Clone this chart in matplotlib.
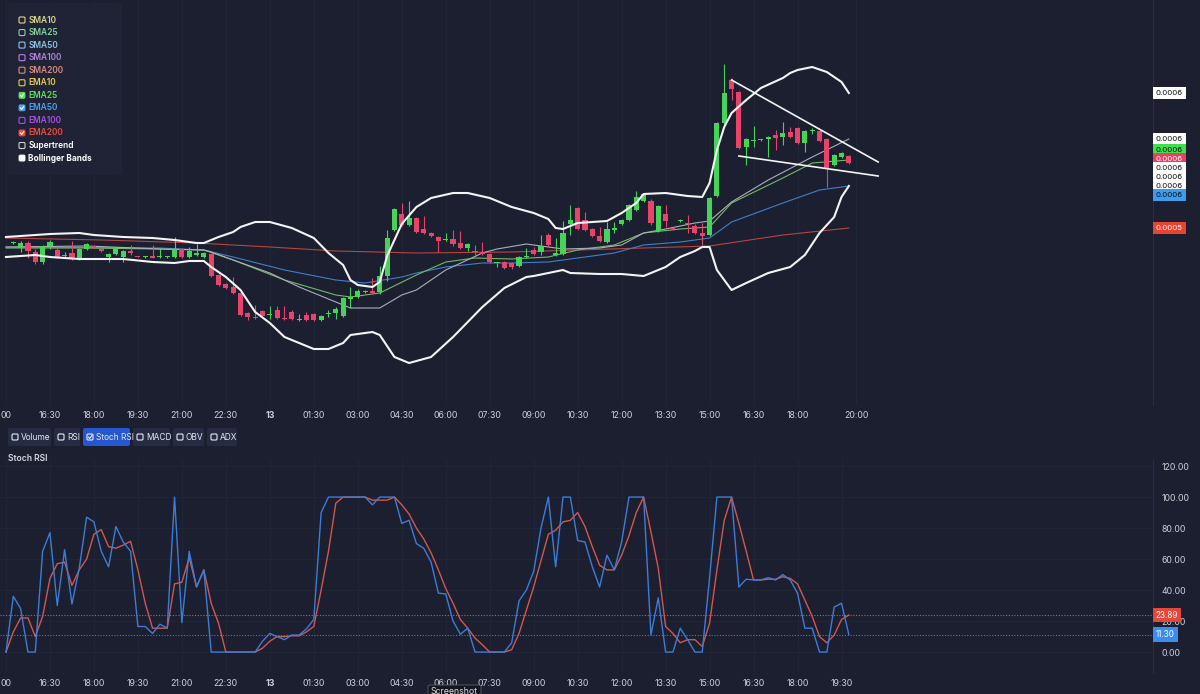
import numpy as np
import matplotlib.pyplot as plt
import matplotlib.transforms as mtransforms
from matplotlib.patches import FancyBboxPatch

plt.rcParams['font.family'] = ['Inter', 'DejaVu Sans']

# ── data: 15 min candles, index 0 = 15:15 on the 12th ──
# prices are stored in chart units; one unit = PRICE_UNIT
PRICE_UNIT = 0.975e-6
opens = [512, 507, 512, 503, 493, 509, 505, 499, 502, 497, 506, 509, 506, 498, 501, 498, 504, 499, 498, 499,
         498, 498, 498, 506, 498, 500, 498, 501, 480, 471, 468, 462, 442, 438, 444, 440, 445, 437, 443, 435,
         440, 441, 435, 441, 442, 439, 456, 458, 463, 464, 463, 479, 525, 541, 530, 537, 526, 522, 518, 515,
         516, 512, 507, 504, 503, 501, 492, 493, 492, 489, 498, 505, 503, 520, 500, 501, 531, 547, 535, 526,
         519, 513, 525, 531, 535, 545, 554, 554, 524, 541, 527, 534, 532, 529, 522, 520, 559, 632, 675, 663,
         608, 614, 615, 616, 620, 618, 623, 627, 612, 624, 624, 616, 590, 598, 599]
highs = [514, 514, 514, 506, 510, 515, 508, 503, 514, 507, 512, 510, 507, 502, 508, 505, 510, 499, 499, 510,
         507, 499, 518, 507, 508, 511, 503, 502, 481, 472, 478, 463, 443, 450, 445, 449, 449, 449, 445, 441,
         443, 442, 440, 445, 448, 458, 468, 466, 465, 477, 489, 525, 547, 552, 554, 538, 539, 523, 519, 522,
         525, 524, 512, 510, 513, 502, 492, 494, 493, 499, 507, 508, 520, 522, 517, 534, 550, 548, 543, 527,
         528, 533, 533, 536, 551, 564, 562, 556, 550, 550, 528, 536, 540, 531, 532, 558, 633, 691, 677, 664,
         617, 629, 616, 619, 625, 633, 628, 628, 625, 627, 625, 617, 601, 603, 600]
lows = [511, 503, 497, 491, 491, 506, 497, 497, 495, 495, 505, 507, 503, 493, 500, 493, 500, 498, 497, 497,
        497, 497, 497, 497, 497, 499, 497, 478, 469, 466, 461, 439, 435, 436, 438, 436, 436, 435, 435, 434,
        434, 434, 434, 438, 436, 438, 447, 457, 462, 461, 461, 474, 524, 529, 529, 522, 521, 518, 503, 514,
        509, 506, 504, 500, 500, 492, 488, 486, 486, 488, 497, 500, 500, 509, 499, 500, 520, 525, 524, 518,
        513, 512, 522, 530, 534, 544, 553, 530, 523, 528, 525, 533, 522, 521, 510, 519, 558, 631, 655, 606,
        590, 608, 614, 598, 605, 610, 617, 611, 603, 621, 613, 568, 589, 597, 591]
closes = [513, 512, 504, 493, 509, 513, 498, 500, 497, 506, 511, 508, 504, 501, 507, 504, 502, 498, 498, 497,
          499, 498, 506, 498, 504, 502, 502, 479, 470, 467, 462, 440, 438, 437, 439, 441, 437, 436, 436, 436,
          435, 435, 439, 442, 446, 457, 458, 464, 464, 462, 479, 517, 546, 530, 537, 523, 522, 519, 514, 516,
          511, 507, 511, 503, 501, 493, 492, 487, 488, 498, 499, 501, 509, 510, 502, 522, 535, 526, 525, 519,
          514, 526, 527, 535, 550, 558, 561, 532, 549, 534, 526, 535, 531, 522, 519, 557, 632, 662, 666, 607,
          616, 615, 615, 618, 617, 622, 618, 612, 624, 625, 614, 587, 600, 602, 592]

# overlay lines, read at selected candle indices
bb_upper_idx = [-1, 3, 5, 9, 11, 15, 19, 22, 25, 26, 28, 30, 31, 33, 35, 38, 41, 43, 45, 46,
                47, 49, 50, 51, 53, 55, 57, 60, 62, 65, 68, 71, 73, 74, 75, 77, 81, 83, 85, 86,
                89, 92, 94, 95, 96, 97, 98, 100, 102, 105, 106, 107, 109, 111, 113, 114]
bb_upper = [518, 520, 521, 522, 520, 518, 517, 515, 512, 512, 518, 523, 528, 533, 533, 527, 517, 502, 490, 475,
            470, 468, 473, 499, 531, 548, 557, 562, 562, 557, 548, 542, 536, 527, 526, 532, 534, 542, 552, 561,
            562, 559, 558, 572, 605, 628, 642, 655, 667, 677, 682, 685, 688, 683, 673, 662]
bb_lower_idx = [-1, 3, 5, 9, 12, 15, 19, 22, 24, 26, 27, 29, 31, 33, 35, 37, 41, 43, 45, 46,
                49, 50, 52, 54, 57, 60, 64, 67, 70, 71, 73, 75, 76, 80, 83, 86, 89, 91, 93, 94,
                95, 96, 98, 100, 103, 106, 108, 110, 112, 113, 114]
bb_lower = [498, 500, 498, 496, 496, 496, 493, 492, 494, 494, 488, 478, 465, 443, 432, 418, 406, 406, 412, 420,
            423, 420, 398, 392, 398, 418, 448, 467, 478, 479, 482, 485, 482, 481, 481, 479, 488, 498, 504, 508,
            508, 485, 465, 472, 482, 488, 500, 522, 538, 558, 569]
bb_mid_idx = [-1, 10, 20, 26, 27, 30, 35, 39, 44, 46, 50, 53, 55, 59, 64, 66, 70, 73, 75, 80,
              83, 86, 89, 93, 95, 98, 103, 109, 114]
bb_mid = [508, 509, 506, 505, 503, 495, 482, 468, 453, 447, 447, 460, 465, 485, 502, 506, 511, 508, 506, 507,
          510, 522, 526, 532, 534, 553, 575, 598, 616]
ema25_idx = [-1, 10, 20, 26, 30, 37, 44, 46, 50, 55, 59, 63, 68, 73, 77, 82, 86, 91, 95, 98, 105, 109, 114]
ema25 = [507, 507, 506, 505, 495, 475, 460, 458, 462, 480, 493, 497, 496, 498, 505, 510, 522, 526, 528, 552,
         577, 592, 595]
ema50_idx = [-1, 20, 26, 30, 37, 44, 48, 53, 55, 59, 64, 68, 73, 77, 82, 86, 91, 95, 98, 105, 110, 114]
ema50 = [508, 507, 505, 498, 485, 475, 472, 478, 482, 488, 492, 492, 493, 497, 502, 510, 513, 517, 533, 552,
         565, 569]
ema200_idx = [-1, 12, 25, 35, 44, 55, 68, 86, 95, 105, 114]
ema200 = [517, 515, 512, 508, 504, 502, 503, 507, 509, 520, 527]

# hand drawn wedge lines (candle index, price)
trend_upper = [(98, 675), (118, 593)]
trend_lower = [(99, 599), (118, 579)]

# stoch RSI, index -1 .. 114
stoch_k = [0, 36, 28, 0, 0, 65, 77, 30, 66, 31, 54, 87, 84, 65, 55, 81, 71, 65, 16.5, 16.5,
           12, 18, 15.4, 100, 19, 65, 42, 53, 0, 0, 0, 0, 0, 0, 0, 7, 12, 10, 8, 11,
           11, 15, 21, 90, 100, 100, 100, 100, 100, 100, 95, 100, 100, 100, 83, 85, 70, 67, 58, 38,
           37.5, 20, 11.5, 15.4, 0, 0, 0, 0, 0, 6, 33, 40, 52, 80, 100, 55, 100, 100, 72, 71,
           55, 42, 62.5, 53, 71, 100, 100, 100, 11, 35, 0, 0, 15.4, 8, 0, 0, 48, 100, 100, 100,
           42, 47, 46.5, 46.5, 48, 46.5, 50, 46.5, 38, 15.4, 15.4, 0, 0, 29, 31.5, 11.3]
stoch_d = [0, 13, 22, 22, 10, 23, 47.5, 57, 58, 43, 53, 60, 76, 79, 68, 67, 69, 71.5, 53, 31.5,
           15.4, 15.4, 15.4, 44, 45, 61, 42, 53, 31.5, 18.6, 0, 0, 0, 0, 0, 2.5, 7, 10, 10, 10.5,
           10.5, 13, 16.5, 40, 65, 96, 100, 100, 100, 100, 98, 98, 98, 100, 95, 89, 80, 73, 64, 53,
           41, 31.5, 21, 15.4, 9, 4.7, 0, 0, 0, 1.5, 12, 27, 42, 59, 76, 78.6, 84, 85, 90, 81,
           68, 56, 53, 53, 62.5, 75, 90, 100, 77.5, 54, 16.5, 12, 6, 8, 8, 3.6, 18.6, 53, 85, 100,
           83, 65, 46.5, 46.5, 47, 47, 48.6, 47.5, 44, 33.6, 23, 10, 6, 11, 21, 23.89]

top_tick_idx = [-1, 5, 11, 17, 23, 29, 35, 41, 47, 53, 59, 65, 71, 77, 83, 89, 95, 101, 107, 115]
top_tick_lbl = ['00', '16:30', '18:00', '19:30', '21:00', '22:30', '13', '01:30', '03:00', '04:30',
                '06:00', '07:30', '09:00', '10:30', '12:00', '13:30', '15:00', '16:30', '18:00', '20:00']
bot_tick_idx = [-1, 5, 11, 17, 23, 29, 35, 41, 47, 53, 59, 65, 71, 77, 83, 89, 95, 101, 107, 113]
bot_tick_lbl = top_tick_lbl[:-1] + ['19:30']

legend_names = ['SMA10', 'SMA25', 'SMA50', 'SMA100', 'SMA200', 'EMA10', 'EMA25', 'EMA50', 'EMA100',
                'EMA200', 'Supertrend', 'Bollinger Bands']
legend_colors = ['#d9d98c', '#86d3a0', '#8ec3ea', '#b283e0', '#d98a86', '#e5cf55', '#5fe35a', '#49a3f2',
                 '#a451e3', '#ef4c3c', '#ffffff', '#ffffff']
legend_checked = [False, False, False, False, False, False, True, True, False, True, False, True]
buttons = ['Volume', 'RSI', 'Stoch RSI', 'MACD', 'OBV', 'ADX']

# ── colours ────────────────────────────────────────────────────────────────
BG = '#1b1f30'
GRID = '#232839'
TXT = '#cdd1da'
GREEN = '#45d35a'
RED = '#e8436a'

W, H = 1200, 694
fig = plt.figure(figsize=(12, 6.94), dpi=100, facecolor=BG)


def px_box(x0, y0, x1, y1):
    # pixel box with top-left origin -> figure fraction rect
    return [x0 / W, 1 - y1 / H, (x1 - x0) / W, (y1 - y0) / H]


XLIM = (-1.815, 155.5)

# ── price panel ───────────────────────────────────────────────────────────
ax = fig.add_axes(px_box(0, 0, 1153, 405))
ax.set_facecolor(BG)
ax.set_xlim(*XLIM)
ax.set_ylim(350, 755)

o, h, l, c = (np.array(a, dtype=float) for a in (opens, highs, lows, closes))
idx = np.arange(len(o))
cols = np.where(c >= o, GREEN, RED)
ax.vlines(idx, l, h, colors=cols, lw=0.8, zorder=3)
ax.bar(idx, np.maximum(np.abs(c - o), 0.9), bottom=np.minimum(o, c), width=0.7,
       color=cols, lw=0, zorder=4)

ax.plot(ema200_idx, ema200, color='#b8453f', lw=0.8, zorder=2)
ax.plot(ema50_idx, ema50, color='#3f7fc8', lw=0.8, zorder=2)
ax.plot(ema25_idx, ema25, color='#76b862', lw=0.8, zorder=2)
ax.plot(bb_mid_idx, bb_mid, color='#a9afba', lw=0.8, zorder=2)
ax.plot(bb_upper_idx, bb_upper, color='#f4f4f4', lw=1.5, zorder=5)
ax.plot(bb_lower_idx, bb_lower, color='#f4f4f4', lw=1.5, zorder=5)
for line in (trend_upper, trend_lower):
    xs, ys = zip(*line)
    ax.plot(xs, ys, color='#f4f4f4', lw=1.2, zorder=6)

ax.set_xticks(top_tick_idx)
ax.set_xticklabels(top_tick_lbl)
ax.set_yticks([])
ax.tick_params(axis='x', length=0, colors=TXT, labelsize=6.3, pad=4)
ax.grid(axis='x', color=GRID, lw=0.6)
for s in ('top', 'left', 'bottom'):
    ax.spines[s].set_visible(False)
ax.spines['right'].set_color('#2a2f44')
ax.spines['right'].set_linewidth(0.8)


def spread(vals, gap):
    # keep labels at least `gap` apart, centring each crowded group on its mean
    groups = []
    for v in vals:
        groups.append([v])
        while len(groups) > 1:
            a, b = groups[-2], groups[-1]
            bot_a = np.mean(a) - (len(a) - 1) * gap / 2
            top_b = np.mean(b) + (len(b) - 1) * gap / 2
            if bot_a - top_b < gap:
                groups[-2:] = [a + b]
            else:
                break
    out = []
    for g in groups:
        m, n = np.mean(g), len(g)
        out += [m + (n - 1) * gap / 2 - k * gap for k in range(n)]
    return out


# last-value price tags on the right scale
tags = [(bb_upper[-1], '#ffffff', '#111111'),
        (bb_mid[-1], '#ffffff', '#111111'),
        (ema25[-1], '#3ee04f', '#111111'),
        (closes[-1], '#ee3f63', '#ffffff'),
        (trend_upper[-1][1], '#ffffff', '#111111'),
        (trend_lower[-1][1], '#ffffff', '#111111'),
        (bb_lower[-1], '#ffffff', '#111111'),
        (ema50[-1], '#3c9cf2', '#111111'),
        (ema200[-1], '#ea4330', '#ffffff')]
tag_pos = spread([t[0] for t in tags], 9)
trans = mtransforms.blended_transform_factory(ax.transAxes, ax.transData)
for (v, fc, tc), yp in zip(tags, tag_pos):
    ax.text(1.0025, yp, f'{v * PRICE_UNIT:.4f}', transform=trans, ha='left', va='center',
            fontsize=5.6, color=tc, clip_on=False,
            bbox=dict(boxstyle='square,pad=0.4', fc=fc, ec='none'))

# ── stoch RSI panel ───────────────────────────────────────────────────────
ax2 = fig.add_axes(px_box(0, 460, 1153, 673))
ax2.set_facecolor(BG)
ax2.set_xlim(*XLIM)
ax2.set_ylim(-13.5, 123.9)
sidx = np.arange(-1, len(stoch_k) - 1)
ax2.plot(sidx, stoch_d, color='#d4574c', lw=1.0, zorder=3)
ax2.plot(sidx, stoch_k, color='#3b7dd8', lw=1.0, zorder=4)
ax2.axhline(stoch_d[-1], color='#d4574c', lw=0.8, ls=(0, (1, 1.5)), zorder=2)
ax2.axhline(stoch_k[-1], color='#3b7dd8', lw=0.8, ls=(0, (1, 1.5)), zorder=2)

ax2.set_xticks(bot_tick_idx)
ax2.set_xticklabels(bot_tick_lbl)
ax2.set_yticks(np.arange(0, 121, 20))
ax2.set_yticklabels([f'{v:.2f}' for v in np.arange(0, 121, 20)])
ax2.yaxis.tick_right()
ax2.tick_params(axis='x', length=0, colors=TXT, labelsize=6.3, pad=4)
ax2.tick_params(axis='y', length=0, colors=TXT, labelsize=6.3, pad=6)
ax2.grid(color=GRID, lw=0.6)
for s in ('top', 'left', 'bottom'):
    ax2.spines[s].set_visible(False)
ax2.spines['right'].set_color('#2a2f44')
ax2.spines['right'].set_linewidth(0.8)

trans2 = mtransforms.blended_transform_factory(ax2.transAxes, ax2.transData)
for v, fc in ((stoch_d[-1], '#e5483a'), (stoch_k[-1], '#3a8ef0')):
    ax2.text(1.0025, v, f'{v:.2f}', transform=trans2, ha='left', va='center', fontsize=5.8,
             color='white', clip_on=False, zorder=10,
             bbox=dict(boxstyle='square,pad=0.35', fc=fc, ec='none'))

for a in (ax, ax2):
    for t in a.get_xticklabels():
        if t.get_text() == '13':
            t.set_fontweight('bold')

# ── interface chrome: legend box, indicator buttons, captions ─────────────
ui = fig.add_axes([0, 0, 1, 1])
ui.set_xlim(0, W)
ui.set_ylim(H, 0)
ui.axis('off')


def checkbox(x, y, color, checked, edge=None):
    if checked:
        ui.add_patch(FancyBboxPatch((x, y), 6, 6, boxstyle='round,pad=0,rounding_size=1.2',
                                    fc=color, ec=color, lw=0.6))
        ui.plot([x + 1.4, x + 2.7, x + 4.8], [y + 3.1, y + 4.5, y + 1.6], color='white', lw=0.8)
    else:
        ui.add_patch(FancyBboxPatch((x, y), 6, 6, boxstyle='round,pad=0,rounding_size=1.2',
                                    fc='none', ec=edge or color, lw=0.8))


ui.add_patch(FancyBboxPatch((8, 3), 114, 172, boxstyle='round,pad=0,rounding_size=3',
                            fc='#1f2335', ec='none'))
for k, (name, col, chk) in enumerate(zip(legend_names, legend_colors, legend_checked)):
    y = 20 + k * 12.55
    checkbox(19, y - 3, col, chk, edge='#d0d0d0' if name == 'Supertrend' else None)
    ui.text(28.5, y, name, color=col, fontsize=6.0, va='center', ha='left',
            fontweight='bold' if name == 'Bollinger Bands' else 'semibold')

bx = 8
btn_w = [43, 26, 47, 37, 31, 30]
for name, bw in zip(buttons, btn_w):
    active = name == 'Stoch RSI'
    ui.add_patch(FancyBboxPatch((bx, 428), bw, 18, boxstyle='round,pad=0,rounding_size=2',
                                fc='#2457d0' if active else '#262b44', ec='none'))
    checkbox(bx + 4, 434, '#2457d0' if active else TXT, False, edge='#e6e9f0')
    if active:
        ui.plot([bx + 5.4, bx + 6.7, bx + 8.8], [437.1, 438.5, 435.6], color='white', lw=0.7)
    ui.text(bx + 13, 437.2, name, color='#e6e9f0', fontsize=6.0, va='center', ha='left')
    bx += bw + 3

ui.text(8, 458, 'Stoch RSI', color='#d5d9e2', fontsize=6.2, va='center', ha='left',
        fontweight='semibold')

ui.add_patch(FancyBboxPatch((428, 685), 53, 16, boxstyle='round,pad=0,rounding_size=2',
                            fc='#14171f', ec='#5a5f6c', lw=0.6))
ui.text(454.5, 691, 'Screenshot', color='#dcdcdc', fontsize=6.3, ha='center', va='center')

fig.savefig('out.png', dpi=100, facecolor=BG)
